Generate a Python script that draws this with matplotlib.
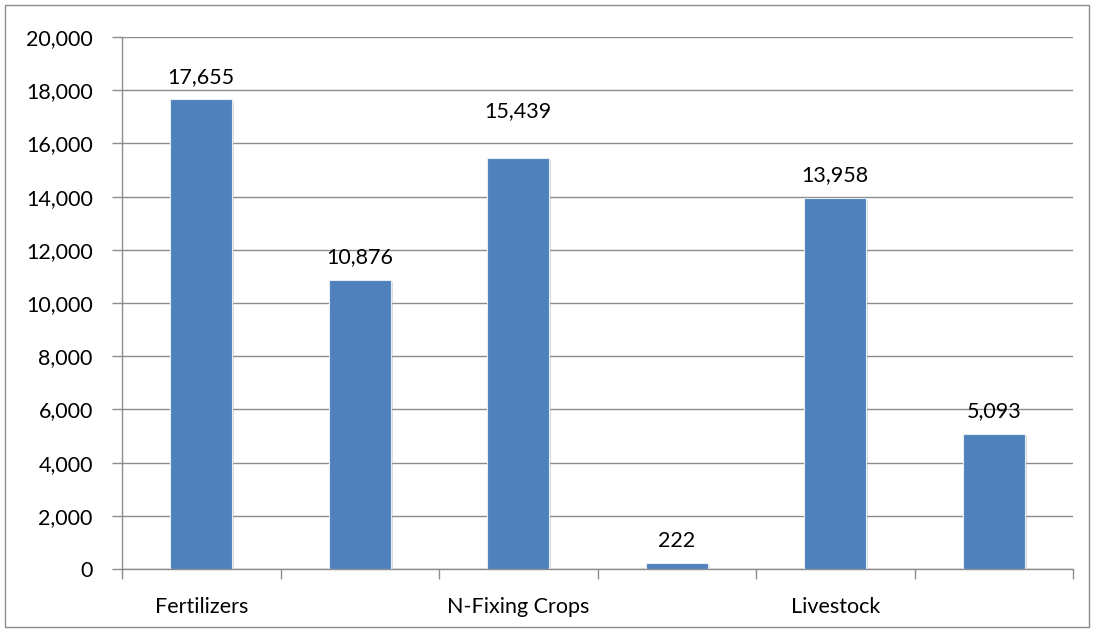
import matplotlib
matplotlib.use("Agg")
import matplotlib.pyplot as plt
import matplotlib.patheffects as pe
from matplotlib.patches import Rectangle

categories = ["Fertilizers", "", "N-Fixing Crops", "", "Livestock", ""]
values = [17655, 10876, 15439, 222, 13958, 5093]
yticks = [0, 2000, 4000, 6000, 8000, 10000, 12000, 14000, 16000, 18000, 20000]
label_offsets = [9, 9, 27, 9, 9, 9]

plt.rcParams['font.family'] = ['Lato', 'DejaVu Sans']

fig = plt.figure(figsize=(10.94, 6.32), dpi=100)
ax = fig.add_axes([122/1094, 1-569/632, (1073-122)/1094, (569-37)/632])

x = list(range(len(values)))
bars = ax.bar(x, values, width=0.39, color='#4F81BD', edgecolor='#e8eef7', linewidth=0.8, zorder=3)
for b in bars:
    b.set_path_effects([pe.SimplePatchShadow(offset=(1.5, -1.5), shadow_rgbFace='#999999', alpha=0.35), pe.Normal()])

for xi, v, off in zip(x, values, label_offsets):
    ax.annotate(f"{v:,}", (xi, v), xytext=(0, off), textcoords='offset points',
                ha='center', va='bottom', fontsize=15.5, color='black')

ax.set_xlim(-0.5, len(values) - 0.5)
ax.set_ylim(0, 20000)
ax.set_yticks(yticks)
ax.set_yticklabels([f"{t:,}" for t in yticks])
ax.yaxis.grid(True, color='#8c8c8c', linewidth=1.0, zorder=0)
ax.set_axisbelow(True)

ax.set_xticks(x)
ax.set_xticklabels(categories)
ax.set_xticks([i - 0.5 for i in range(len(values) + 1)], minor=True)
ax.tick_params(axis='x', which='major', length=0, pad=20, labelsize=15.5)
ax.tick_params(axis='x', which='minor', length=7, width=1, color='#8c8c8c', direction='out')
ax.tick_params(axis='y', length=7, width=1, color='#8c8c8c', pad=14, labelsize=15.5)

for s in ['top', 'right']:
    ax.spines[s].set_visible(False)
for s in ['left', 'bottom']:
    ax.spines[s].set_color('#8c8c8c')
    ax.spines[s].set_linewidth(1)

fig.patches.append(Rectangle((5/1094, 5/632), 1 - 10/1094, 1 - 10/632, transform=fig.transFigure,
                             fill=False, edgecolor='#8c8c8c', linewidth=1))

fig.savefig("out.png", dpi=100)
